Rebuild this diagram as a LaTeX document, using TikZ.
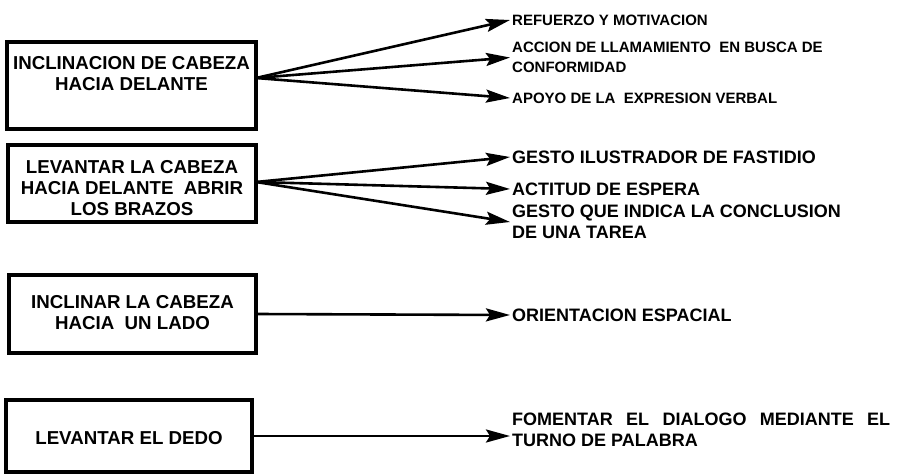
\documentclass[tikz,border=0pt]{standalone}
\usepackage{fontspec}
\setmainfont{Liberation Sans}
\usepackage{tikz}
\usetikzlibrary{arrows.meta,positioning}

\tikzset{
  caja/.style={draw, line width=3.2pt, outer sep=0pt, anchor=north west},
  titulo/.style={align=center, inner sep=0pt, font=\fontsize{18.7}{21}\selectfont\bfseries},
  efecto/.style={anchor=west, align=left, inner sep=2pt, font=\fontsize{15}{20.5}\selectfont\bfseries},
  efectog/.style={efecto, font=\fontsize{18}{21}\selectfont\bfseries},
  flecha/.style={->, line width=2.6pt}
}

\begin{document}
\begin{tikzpicture}[x=1pt,y=-1pt,>={Stealth[length=24pt,width=13pt,inset=4pt]}]
		\useasboundingbox (0,0) rectangle (903,476);

		% boxes
		\node[caja, minimum width=249pt, minimum height=87pt] (b1) at (7,42) {};
		\node[caja, minimum width=248pt, minimum height=77pt] (b2) at (8,145) {};
		\node[caja, minimum width=247pt, minimum height=78pt] (b3) at (9,275) {};
		\node[caja, minimum width=246pt, minimum height=72pt] (b4) at (6,400) {};

		\node[titulo] (t1) at (131.5,73.5) {INCLINACION DE CABEZA\\HACIA DELANTE};
		\node[titulo] (t2) at (132,188.5) {LEVANTAR LA CABEZA\\HACIA DELANTE\ \ ABRIR\\LOS BRAZOS};
		\node[titulo] (t3) at (132.5,312.5) {INCLINAR LA CABEZA\\HACIA\ \ UN LADO};
		\node[titulo] (t4) at (129,438) {LEVANTAR EL DEDO};

		% effects
		\node[efecto] (r1) at (510,20) {REFUERZO Y MOTIVACION};
		\node[efecto] (r2) at (510,57.5) {ACCION DE LLAMAMIENTO\ \ EN BUSCA DE\\CONFORMIDAD};
		\node[efecto] (r3) at (510,98) {APOYO DE LA\ \ EXPRESION VERBAL};
		\node[efectog] (r4) at (510,157) {GESTO ILUSTRADOR DE FASTIDIO};
		\node[efectog] (r5) at (510,189) {ACTITUD DE ESPERA};
		\node[efectog] (r6) at (510,222) {GESTO QUE INDICA LA CONCLUSION\\DE UNA TAREA};
		\node[efectog] (r7) at (510,315) {ORIENTACION ESPACIAL};
		\node[efectog] (r8) at (510,430) {\makebox[378pt][s]{FOMENTAR EL DIALOGO MEDIANTE EL}\\TURNO DE PALABRA};

		% arrows
		\coordinate (s1) at ([yshift=7.5pt]b1.east);
		\coordinate (s2) at ([yshift=1.5pt]b2.east);
		\foreach \r in {r1,r2,r3}
			\draw[flecha] (s1) -- (\r.west);
		\foreach \r in {r4,r5,r6}
			\draw[flecha] (s2) -- (\r.west);
		\draw[flecha] (b3.east) -- (r7.west);
		\draw[flecha] (b4.east) -- (b4.east -| r8.west);
	\end{tikzpicture}
\end{document}
